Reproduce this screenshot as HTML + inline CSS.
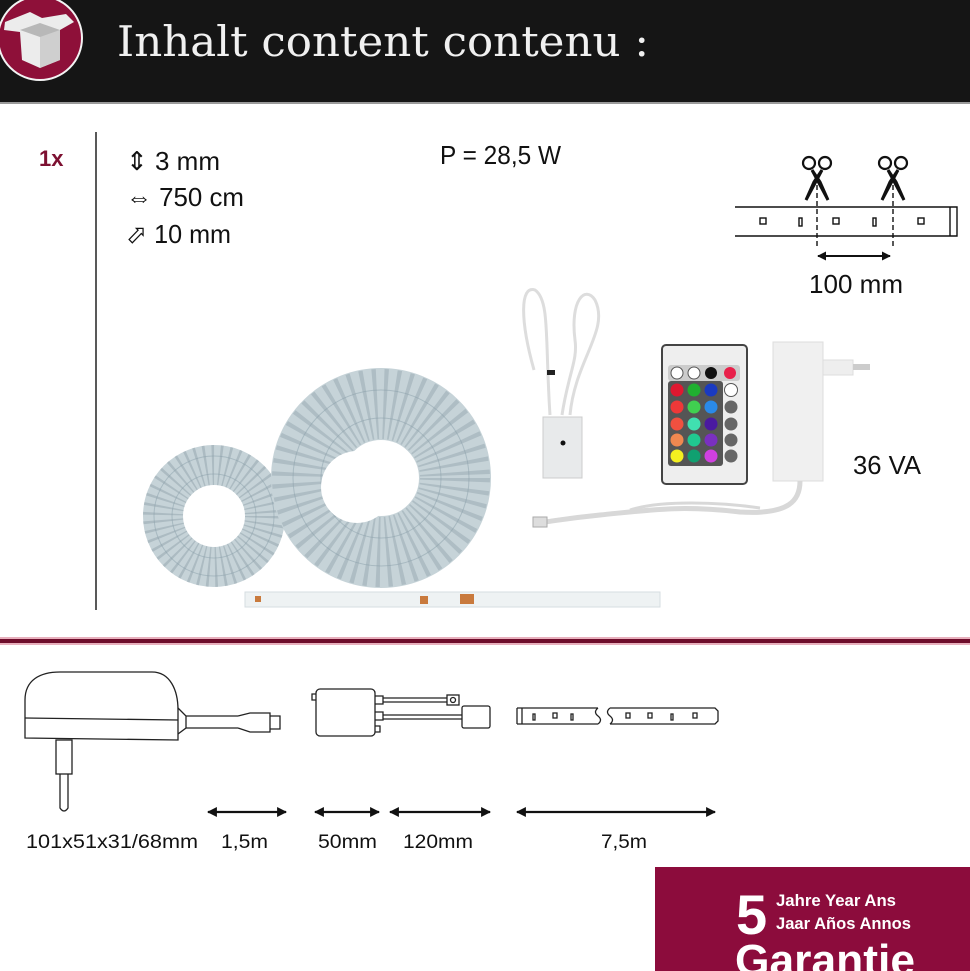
<!DOCTYPE html>
<html><head><meta charset="utf-8"><style>
html,body{margin:0;padding:0;background:#fff;}
svg{display:block;}
text{font-family:"Liberation Sans",sans-serif;}
</style></head><body>
<svg width="970" height="971" viewBox="0 0 970 971" xmlns="http://www.w3.org/2000/svg">
<defs>
<marker id="ah" viewBox="0 0 10 10" refX="9" refY="5" markerWidth="4.5" markerHeight="4.5" orient="auto-start-reverse"><path d="M0,0 L10,5 L0,10 z" fill="#111"/></marker>
</defs>
<!-- header -->
<rect x="0" y="0" width="970" height="102" fill="#151515"/>
<rect x="0" y="102" width="970" height="2" fill="#9a9a9a"/>
<circle cx="40" cy="38" r="42" fill="#8e1039" stroke="#f3f3f3" stroke-width="2"/>
<g>
<path d="M5,22 L30,12 L42,18 L66,14 L74,22 L60,30 L60,60 L40,68 L22,60 L20,32 L4,30 Z" fill="#ececec"/>
<path d="M40,36 L40,68 L60,60 L60,30 Z" fill="#cfcfcf"/>
<path d="M20,30 L40,37 L60,30 L40,23 Z" fill="#b8b8b8"/>
</g>
<text x="117" y="56" font-size="42" fill="#f0f0f0" textLength="532" lengthAdjust="spacingAndGlyphs" style="font-family:'DejaVu Serif','Liberation Serif',serif">Inhalt  content  contenu :</text>

<!-- top info -->
<text x="39" y="166" font-size="22" font-weight="bold" fill="#7d1031">1x</text>
<line x1="96" y1="132" x2="96" y2="610" stroke="#222" stroke-width="1.5"/>
<text x="126" y="170" font-size="26" fill="#111" textLength="94" lengthAdjust="spacingAndGlyphs">⇕ 3 mm</text>
<text x="126" y="206" font-size="26" fill="#111" textLength="118" lengthAdjust="spacingAndGlyphs">⇔ 750 cm</text>
<text x="126" y="243" font-size="26" fill="#111" textLength="105" lengthAdjust="spacingAndGlyphs">⬀ 10 mm</text>
<text x="440" y="164" font-size="26" fill="#111" textLength="121" lengthAdjust="spacingAndGlyphs">P = 28,5 W</text>

<!-- cut strip -->
<g stroke="#111" fill="none" stroke-width="1.4">
<path d="M735,207 L957,207 M735,236 L957,236 M950,207 L957,207 L957,236 L950,236 L950,207"/>
<rect x="760" y="218" width="6" height="6"/><rect x="799" y="218" width="3" height="8"/>
<rect x="833" y="218" width="6" height="6"/><rect x="873" y="218" width="3" height="8"/>
<rect x="918" y="218" width="6" height="6"/>
<line x1="817" y1="185" x2="817" y2="248" stroke-dasharray="5,3"/>
<line x1="893" y1="185" x2="893" y2="248" stroke-dasharray="5,3"/>
<circle cx="809" cy="163" r="6" stroke-width="2.2"/><circle cx="825" cy="163" r="6" stroke-width="2.2"/>
<circle cx="885" cy="163" r="6" stroke-width="2.2"/><circle cx="901" cy="163" r="6" stroke-width="2.2"/>
<line x1="818" y1="256" x2="890" y2="256" stroke-width="2" marker-start="url(#ah)" marker-end="url(#ah)"/>
</g>
<path d="M812,170 L828,200 L820,182 Z M822,170 L806,200 L814,182 Z M888,170 L904,200 L896,182 Z M898,170 L882,200 L890,182 Z" fill="#111" stroke="#111" stroke-width="3"/>
<text x="809" y="293" font-size="26" fill="#111" textLength="94" lengthAdjust="spacingAndGlyphs">100 mm</text>

<!-- coils -->
<circle cx="214" cy="516" r="51" fill="none" stroke="#c6d3d8" stroke-width="40"/>
<circle cx="214" cy="516" r="51" fill="none" stroke="#6f8590" stroke-width="40" stroke-dasharray="2,5" opacity="0.3"/>
<circle cx="214" cy="516" r="42" fill="none" stroke="#8aa0aa" stroke-width="1" opacity="0.5"/>
<circle cx="214" cy="516" r="60" fill="none" stroke="#8aa0aa" stroke-width="1" opacity="0.5"/>
<circle cx="381" cy="478" r="74" fill="none" stroke="#c6d3d8" stroke-width="72"/>
<circle cx="381" cy="478" r="74" fill="none" stroke="#6f8590" stroke-width="70" stroke-dasharray="3,6" opacity="0.28"/>
<circle cx="381" cy="478" r="60" fill="none" stroke="#8aa0aa" stroke-width="1" opacity="0.5"/>
<circle cx="381" cy="478" r="88" fill="none" stroke="#8aa0aa" stroke-width="1" opacity="0.5"/>
<circle cx="357" cy="487" r="36" fill="#fff"/>
<rect x="245" y="592" width="415" height="15" fill="#eef2f3" stroke="#d6dde0"/>
<g fill="#c97a3d"><rect x="255" y="596" width="6" height="6"/><rect x="420" y="596" width="8" height="8"/><rect x="460" y="594" width="14" height="10"/></g>

<!-- controller -->
<path d="M534,370 C520,320 520,285 535,290 C550,300 545,340 550,415 M570,415 C575,360 610,330 595,300 C585,285 570,300 575,340 C578,360 568,375 562,415" fill="none" stroke="#ddd" stroke-width="3"/>
<rect x="543" y="417" width="39" height="61" fill="#e8eaeb" stroke="#ccc"/>
<circle cx="563" cy="443" r="2.5" fill="#111"/>
<rect x="547" y="370" width="8" height="5" fill="#222"/>

<!-- remote -->
<rect x="662" y="345" width="85" height="139" rx="4" fill="#eeeeee" stroke="#444" stroke-width="2"/>
<rect x="668" y="365" width="72" height="16" rx="3" fill="#ccc"/>
<g>
<circle cx="677" cy="373" r="6" fill="#fff" stroke="#555"/><circle cx="694" cy="373" r="6" fill="#fff" stroke="#555"/>
<circle cx="711" cy="373" r="6" fill="#111"/><circle cx="730" cy="373" r="6" fill="#e8204a"/>
<rect x="668" y="381" width="55" height="85" rx="3" fill="#555"/>
<circle cx="677" cy="390" r="6.5" fill="#e01830"/><circle cx="694" cy="390" r="6.5" fill="#20b030"/><circle cx="711" cy="390" r="6.5" fill="#1a3ac0"/><circle cx="731" cy="390" r="6.5" fill="#fff" stroke="#555"/>
<circle cx="677" cy="407" r="6.5" fill="#ef3838"/><circle cx="694" cy="407" r="6.5" fill="#40d050"/><circle cx="711" cy="407" r="6.5" fill="#2a8ae8"/><circle cx="731" cy="407" r="6.5" fill="#666"/>
<circle cx="677" cy="424" r="6.5" fill="#f05040"/><circle cx="694" cy="424" r="6.5" fill="#40e0b0"/><circle cx="711" cy="424" r="6.5" fill="#4a1aa0"/><circle cx="731" cy="424" r="6.5" fill="#666"/>
<circle cx="677" cy="440" r="6.5" fill="#f08850"/><circle cx="694" cy="440" r="6.5" fill="#20c890"/><circle cx="711" cy="440" r="6.5" fill="#7a30c0"/><circle cx="731" cy="440" r="6.5" fill="#666"/>
<circle cx="677" cy="456" r="6.5" fill="#f4f020"/><circle cx="694" cy="456" r="6.5" fill="#10a070"/><circle cx="711" cy="456" r="6.5" fill="#d040e0"/><circle cx="731" cy="456" r="6.5" fill="#666"/>
</g>

<!-- adapter -->
<rect x="773" y="342" width="50" height="139" fill="#f0f0f0" stroke="#ddd"/>
<rect x="823" y="360" width="30" height="15" fill="#eee" stroke="#ddd"/>
<rect x="853" y="364" width="17" height="6" fill="#ccc"/>
<path d="M800,481 C800,500 790,515 740,512 C680,505 650,510 600,515 C570,518 560,520 545,522" fill="none" stroke="#d8d8d8" stroke-width="5"/>
<path d="M630,510 C660,500 720,502 760,508" fill="none" stroke="#d8d8d8" stroke-width="3"/>
<rect x="533" y="517" width="14" height="10" fill="#ddd" stroke="#aaa"/>
<text x="853" y="474" font-size="26" fill="#111" textLength="68" lengthAdjust="spacingAndGlyphs">36 VA</text>

<!-- red divider -->
<rect x="0" y="639" width="970" height="4" fill="#6e0d2b"/>
<rect x="0" y="637" width="970" height="2" fill="#e8b0bd"/>
<rect x="0" y="643" width="970" height="2" fill="#e8b0bd"/>

<!-- bottom diagram -->
<g stroke="#222" fill="none" stroke-width="1.3">
<path d="M25,738 L25,700 C25,680 40,672 60,672 L152,672 C170,672 178,690 178,710 L178,740 Z"/>
<line x1="25" y1="718" x2="178" y2="720"/>
<path d="M178,708 L186,716 L186,728 L178,734"/>
<path d="M186,716 L238,716 M186,728 L238,728 M238,716 L250,713 L270,713 L270,732 L250,732 L238,728 M270,716 L280,716 L280,729 L270,729"/>
<rect x="56" y="740" width="16" height="34"/>
<path d="M60,774 L60,808 Q64,814 68,808 L68,774"/>
<rect x="316" y="689" width="59" height="47" rx="4"/>
<path d="M316,694 L312,694 L312,700 L316,700 M375,696 L383,696 L383,704 L375,704 M375,712 L383,712 L383,720 L375,720 M375,726 L380,726 L380,732 L375,732"/>
<path d="M383,698 L447,698 M383,702 L447,702 M383,715 L462,715 M383,719 L462,719"/>
<rect x="447" y="695" width="12" height="10"/><circle cx="453" cy="700" r="2.5"/>
<rect x="462" y="706" width="28" height="22" rx="2"/>
<path d="M517,708 L598,708 M517,724 L598,724 M517,708 L517,724 M522,708 L522,724 M598,708 Q593,712 598,716 Q603,720 598,724"/>
<path d="M610,708 L715,708 L718,711 L718,721 L715,724 L610,724 M610,708 Q605,712 610,716 Q615,720 610,724"/>
<rect x="533" y="714" width="2" height="6"/><rect x="553" y="713" width="4" height="5"/><rect x="571" y="714" width="2" height="6"/>
<rect x="626" y="713" width="4" height="5"/><rect x="648" y="713" width="4" height="5"/><rect x="671" y="714" width="2" height="6"/><rect x="693" y="713" width="4" height="5"/>
<g stroke-width="2.2" stroke="#111">
<line x1="208" y1="812" x2="286" y2="812" marker-start="url(#ah)" marker-end="url(#ah)"/>
<line x1="315" y1="812" x2="379" y2="812" marker-start="url(#ah)" marker-end="url(#ah)"/>
<line x1="390" y1="812" x2="490" y2="812" marker-start="url(#ah)" marker-end="url(#ah)"/>
<line x1="517" y1="812" x2="715" y2="812" marker-start="url(#ah)" marker-end="url(#ah)"/>
</g>
</g>
<g font-size="19" fill="#111">
<text x="26" y="848" textLength="172" lengthAdjust="spacingAndGlyphs">101x51x31/68mm</text>
<text x="221" y="848" textLength="47" lengthAdjust="spacingAndGlyphs">1,5m</text>
<text x="318" y="848" textLength="59" lengthAdjust="spacingAndGlyphs">50mm</text>
<text x="403" y="848" textLength="70" lengthAdjust="spacingAndGlyphs">120mm</text>
<text x="601" y="848" textLength="46" lengthAdjust="spacingAndGlyphs">7,5m</text>
</g>

<!-- guarantee -->
<rect x="655" y="867" width="315" height="104" fill="#8c0c3c"/>
<text x="736" y="934" font-size="56" font-weight="bold" fill="#fff">5</text>
<text x="776" y="906" font-size="17" font-weight="bold" fill="#fff" textLength="120" lengthAdjust="spacingAndGlyphs">Jahre Year Ans</text>
<text x="776" y="929" font-size="17" font-weight="bold" fill="#fff" textLength="135" lengthAdjust="spacingAndGlyphs">Jaar Años Annos</text>
<text x="735" y="975" font-size="44" font-weight="bold" fill="#fff" textLength="180" lengthAdjust="spacingAndGlyphs">Garantie</text>
</svg>
</body></html>
